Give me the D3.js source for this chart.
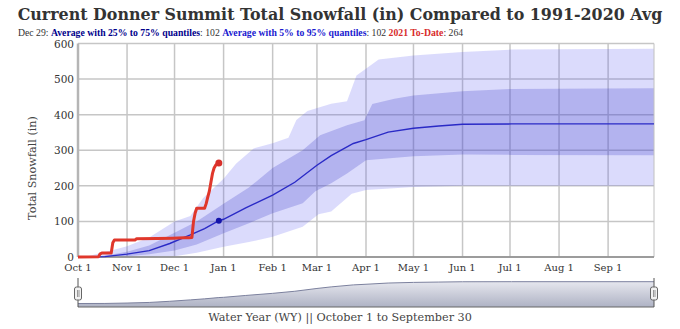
<!DOCTYPE html>
<html>
<head>
<meta charset="utf-8">
<title>Donner Summit Total Snowfall</title>
<style>
    body { margin: 0; background: #fff; }
    text { font-family: "DejaVu Serif", Georgia, serif; }
</style>
</head>
<body>
<div id="chart"></div>
<script src="https://cdn.jsdelivr.net/npm/d3@7/dist/d3.min.js"></script>
<script>
    // all x values are water-year day numbers (0 = Oct 1)
    var monthLabels = ['Oct 1', 'Nov 1', 'Dec 1', 'Jan 1', 'Feb 1', 'Mar 1', 'Apr 1', 'May 1', 'Jun 1', 'Jul 1', 'Aug 1', 'Sep 1'];
    var monthDays = [0, 31, 61, 92, 123, 151, 182, 212, 243, 273, 304, 335];
    var yTicks = [0, 100, 200, 300, 400, 500, 600];

    // 1991-2020 average
    var avgDays = [0, 17, 31, 45, 58, 71, 80, 89, 92, 106, 123, 137, 151, 160, 174, 182, 196, 212, 228, 243, 274, 364];
    var avgVals = [0, 1, 8, 18, 38, 62, 80, 102, 106, 138, 174, 210, 258, 285, 319, 330, 351, 362, 368, 373, 374, 374];

    // 95% quantile
    var q95Days = [0, 5, 21, 31, 45, 61, 71, 79, 92, 100, 111, 123, 133, 138, 145, 160, 170, 176, 190, 212, 243, 274, 364];
    var q95Vals = [0, 1, 18, 30, 55, 100, 115, 165, 220, 263, 305, 320, 335, 385, 410, 431, 438, 510, 555, 566, 576, 583, 585];
    // 75% quantile
    var q75Days = [0, 15, 31, 45, 61, 75, 92, 108, 123, 142, 153, 170, 181, 186, 200, 212, 243, 274, 364];
    var q75Vals = [0, 2, 15, 32, 68, 100, 150, 195, 250, 300, 342, 370, 384, 430, 445, 454, 466, 472, 474];
    // 25% quantile
    var q25Days = [0, 31, 45, 61, 75, 92, 108, 123, 142, 150, 160, 170, 182, 212, 243, 274, 364];
    var q25Vals = [0, 2, 8, 18, 35, 67, 95, 123, 151, 185, 207, 235, 272, 283, 288, 287, 286];
    // 5% quantile
    var q5Days = [0, 61, 75, 92, 108, 123, 142, 152, 160, 173, 182, 212, 243, 364];
    var q5Vals = [0, 2, 12, 29, 42, 57, 85, 120, 128, 178, 188, 197, 200, 200];

    // 2021 to date
    var wyDays = [0, 13, 14, 15, 21, 22, 23, 36, 37, 50, 60, 67, 70, 72, 73, 74, 75, 80, 81, 82, 83, 84, 85, 86, 87, 88, 89];
    var wyVals = [0, 1, 9, 11, 11, 40, 48, 48, 51, 52, 53, 54, 54, 55, 100, 123, 137, 137, 150, 168, 185, 210, 235, 250, 258, 262, 264];

    var legendDay = 'Dec 29';
    var avgToday = 102;
    var wyToday = 264;
    var todayDay = 89;

    var width = 680, height = 329;
    var plotLeft = 78, plotRight = 654, plotTop = 43.5, plotBottom = 257;

    var svg = d3.select('#chart').append('svg')
        .attr('width', width)
        .attr('height', height);

    var x = d3.scaleLinear().domain([0, 364]).range([plotLeft, plotRight]);
    var y = d3.scaleLinear().domain([0, 600]).range([plotBottom, plotTop]);

    function zip(days, vals) {
        return days.map(function(d, i) { return [d, vals[i]]; });
    }

    // fit a text element's font size to a given width
    function fit(sel, w) {
        var size = parseFloat(sel.attr('font-size'));
        var len = sel.node().getComputedTextLength();
        sel.attr('font-size', size * w / len);
    }

    // grid
    svg.append('g').selectAll('line')
        .data(yTicks)
        .enter().append('line')
        .attr('x1', plotLeft).attr('x2', plotRight)
        .attr('y1', function(d) { return y(d); })
        .attr('y2', function(d) { return y(d); })
        .attr('stroke', '#c6c6c6')
        .attr('stroke-width', 1.5);

    svg.append('g').selectAll('line')
        .data(monthDays.slice(1))
        .enter().append('line')
        .attr('x1', function(d) { return x(d); })
        .attr('x2', function(d) { return x(d); })
        .attr('y1', plotTop).attr('y2', plotBottom)
        .attr('stroke', '#c6c6c6')
        .attr('stroke-width', 1.5);

    var line = d3.line()
        .x(function(d) { return x(d[0]); })
        .y(function(d) { return y(d[1]); });

    function band(upDays, upVals, loDays, loVals) {
        var pts = zip(upDays, upVals).concat(zip(loDays, loVals).reverse());
        return line(pts) + 'Z';
    }

    svg.append('path')
        .attr('d', band(q95Days, q95Vals, q5Days, q5Vals))
        .attr('fill', 'rgb(90,90,240)')
        .attr('fill-opacity', 0.22);

    svg.append('path')
        .attr('d', band(q75Days, q75Vals, q25Days, q25Vals))
        .attr('fill', 'rgb(60,60,200)')
        .attr('fill-opacity', 0.25);

    // frame
    svg.append('line')
        .attr('x1', plotRight).attr('x2', plotRight)
        .attr('y1', plotTop).attr('y2', plotBottom)
        .attr('stroke', '#c0c0c0');
    svg.append('line')
        .attr('x1', plotLeft).attr('x2', plotRight)
        .attr('y1', plotBottom).attr('y2', plotBottom)
        .attr('stroke', '#8a8a8a')
        .attr('stroke-width', 1.5);
    svg.append('line')
        .attr('x1', plotLeft).attr('x2', plotLeft)
        .attr('y1', plotTop).attr('y2', plotBottom)
        .attr('stroke', '#b5b5b5')
        .attr('stroke-width', 2.5);

    // average
    svg.append('path')
        .attr('d', line(zip(avgDays, avgVals)))
        .attr('fill', 'none')
        .attr('stroke', '#2a2ac6')
        .attr('stroke-width', 1.4);
    svg.append('circle')
        .attr('cx', x(todayDay))
        .attr('cy', y(avgToday))
        .attr('r', 3)
        .attr('fill', '#1414aa');

    // current year
    svg.append('path')
        .attr('d', line(zip(wyDays, wyVals)))
        .attr('fill', 'none')
        .attr('stroke', '#e0372b')
        .attr('stroke-width', 3)
        .attr('stroke-linejoin', 'round');
    svg.append('circle')
        .attr('cx', x(todayDay))
        .attr('cy', y(wyToday))
        .attr('r', 3.5)
        .attr('fill', '#d8302a');

    // axis labels
    svg.append('g').selectAll('text')
        .data(yTicks)
        .enter().append('text')
        .attr('x', plotLeft - 4)
        .attr('y', function(d) { return y(d) + 4; })
        .attr('text-anchor', 'end')
        .attr('font-size', 10.5)
        .attr('fill', '#333')
        .text(function(d) { return d; });

    svg.append('g').selectAll('text')
        .data(monthDays)
        .enter().append('text')
        .attr('x', function(d) { return x(d); })
        .attr('y', 271)
        .attr('text-anchor', 'middle')
        .attr('font-size', 10)
        .attr('fill', '#333')
        .text(function(d, i) { return monthLabels[i]; });

    var yTitle = svg.append('text')
        .attr('transform', 'translate(36,168) rotate(-90)')
        .attr('text-anchor', 'middle')
        .attr('font-size', 13)
        .attr('fill', '#444')
        .text('Total Snowfall (in)');
    fit(yTitle, 104);

    var xTitle = svg.append('text')
        .attr('x', 340)
        .attr('y', 321)
        .attr('text-anchor', 'middle')
        .attr('font-size', 13)
        .attr('fill', '#444')
        .text('Water Year (WY) || October 1 to September 30');
    fit(xTitle, 264);

    // title
    var title = svg.append('text')
        .attr('x', 340)
        .attr('y', 20)
        .attr('text-anchor', 'middle')
        .attr('font-size', 18)
        .attr('font-weight', 'bold')
        .attr('fill', '#333')
        .text('Current Donner Summit Total Snowfall (in) Compared to 1991-2020 Avg');
    fit(title, 645);

    // legend / tooltip line
    var legend = svg.append('text')
        .attr('x', 18)
        .attr('y', 36)
        .attr('font-size', 11)
        .attr('fill', '#333')
        .style('font-family', '"Liberation Serif", serif')
        .attr('xml:space', 'preserve');
    var parts = [
        [legendDay + ': ', '#333', 'normal'],
        ['Average with 25% to 75% quantiles', '#00008b', 'bold'],
        [': ' + avgToday + ' ', '#333', 'normal'],
        ['Average with 5% to 95% quantiles', '#1a1ad0', 'bold'],
        [': ' + avgToday + ' ', '#333', 'normal'],
        ['2021 To-Date', '#d82c2c', 'bold'],
        [': ' + wyToday, '#333', 'normal']
    ];
    legend.selectAll('tspan')
        .data(parts)
        .enter().append('tspan')
        .attr('fill', function(d) { return d[1]; })
        .attr('font-weight', function(d) { return d[2]; })
        .text(function(d) { return d[0]; });
    fit(legend, 446);

    // navigator
    var navTop = 281.7, navBase = 303.5, navBottom = 307;
    var ny = d3.scaleLinear().domain([0, 374]).range([navBase, navTop]);
    var grad = svg.append('defs').append('linearGradient')
        .attr('id', 'navfill')
        .attr('x1', 0).attr('y1', 0).attr('x2', 0).attr('y2', 1);
    grad.append('stop').attr('offset', '0%').attr('stop-color', '#e6e7ee');
    grad.append('stop').attr('offset', '100%').attr('stop-color', '#aeb2c4');

    var navArea = d3.area()
        .x(function(d) { return x(d[0]); })
        .y0(navBottom)
        .y1(function(d) { return ny(d[1]); });
    svg.append('path')
        .attr('d', navArea(zip(avgDays, avgVals)))
        .attr('fill', 'url(#navfill)');
    svg.append('path')
        .attr('d', d3.line()
            .x(function(d) { return x(d[0]); })
            .y(function(d) { return ny(d[1]); })(zip(avgDays, avgVals)))
        .attr('fill', 'none')
        .attr('stroke', '#7c819e')
        .attr('stroke-width', 1);
    svg.append('line')
        .attr('x1', plotLeft).attr('x2', plotRight)
        .attr('y1', navBottom).attr('y2', navBottom)
        .attr('stroke', '#666');

    [plotLeft, plotRight].forEach(function(hx) {
        svg.append('line')
            .attr('x1', hx).attr('x2', hx)
            .attr('y1', 278).attr('y2', navBottom)
            .attr('stroke', '#555');
        svg.append('rect')
            .attr('x', hx - 3.5).attr('y', 287)
            .attr('width', 7).attr('height', 13)
            .attr('rx', 2)
            .attr('fill', '#f2f2f2')
            .attr('stroke', '#666');
        svg.append('line')
            .attr('x1', hx - 0.5).attr('x2', hx - 0.5)
            .attr('y1', 290).attr('y2', 297)
            .attr('stroke', '#999');
        svg.append('line')
            .attr('x1', hx + 1).attr('x2', hx + 1)
            .attr('y1', 290).attr('y2', 297)
            .attr('stroke', '#999');
    });
</script>
</body>
</html>
